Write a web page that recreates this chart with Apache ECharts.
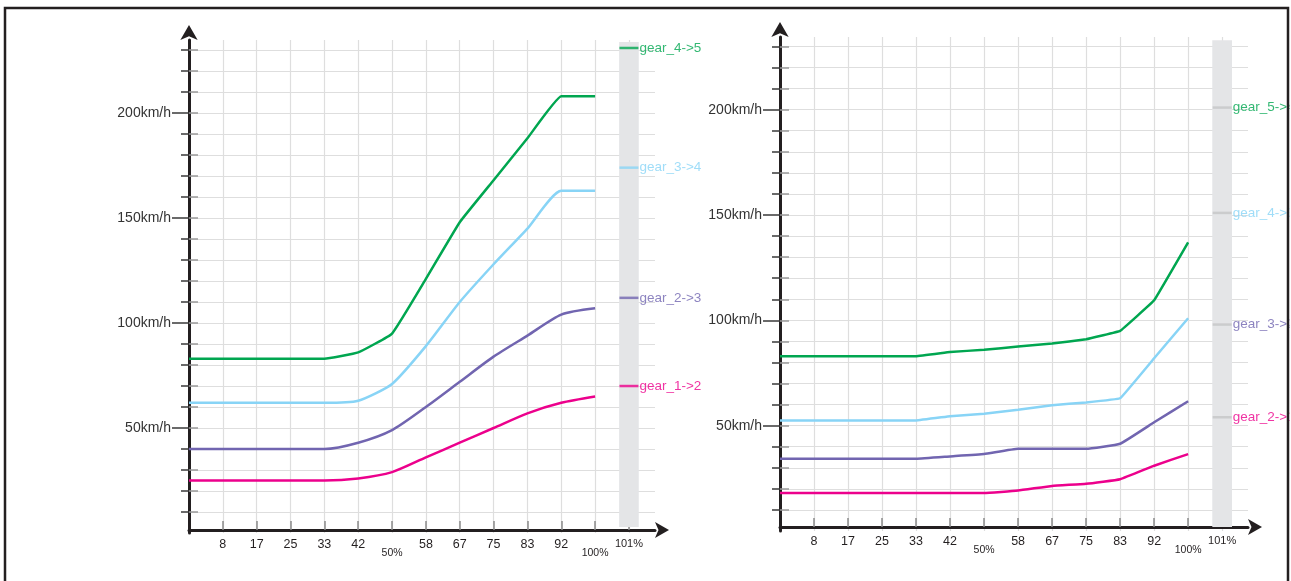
<!DOCTYPE html>
<html>
<head>
<meta charset="utf-8">
<script src="https://cdn.jsdelivr.net/npm/echarts@6/dist/echarts.min.js"></script>
<style>html,body{margin:0;padding:0;background:#fff}#c{width:1291px;height:581px}</style>
</head>
<body>
<div id="c"></div>
<script>
// ---- data ----
const xLabels = ['8','17','25','33','42','50%','58','67','75','83','92','100%','101%'];
const yLabelValues = [50, 100, 150, 200];

const upNames = ['gear_4->5','gear_3->4','gear_2->3','gear_1->2'];
const up45 = [83,83,83,83,83,86,95,121,148,168,188,208,208];
const up34 = [62,62,62,62,62,63,71,89,110,128,145,163,163];
const up23 = [40,40,40,40,40,43,49,60,72,84,94,104,107];
const up12 = [25,25,25,25,25,26,29,36,43,50,57,62,65];
const upLabelY = [231,174,112,70];

const dnNames = ['gear_5->4','gear_4->3','gear_3->2','gear_2->1'];
const dn54 = [83,83,83,83,83,85,86,87.6,89,91,95,109.5,137];
const dn43 = [52.5,52.5,52.5,52.5,52.5,54.5,55.7,57.6,59.7,61,63,82,101];
const dn32 = [34.3,34.3,34.3,34.3,34.3,35.4,36.5,39,39,39,41.4,51.6,61.6];
const dn21 = [18,18,18,18,18,18,18,19.2,21.4,22.4,24.6,31,36.5];
const dnLabelY = [201,151,98,54];

const colors = ['#00a650','#88d4f6','#7165b0','#ec008c'];
const FONT = 'Liberation Sans, Arial, sans-serif';
const DARK = '#231f20';

const chart = echarts.init(document.getElementById('c'));

const grids = [
  {left:189, top:40, width:466, height:493, ymax:234.8, xmax:13.77, xoff:-3, bar:[2.9,233.8]},
  {left:780, top:37, width:468, height:494, ymax:234.5, xmax:13.76, xoff:-4, bar:[1.9,233]}
];
const tens = []; for (let v = 10; v <= 230; v += 10) tens.push(v);
const idx = []; for (let i = 1; i <= 13; i++) idx.push(i);

const xAxes = [], yAxes = [], series = [];
grids.forEach((g, gi) => {
  xAxes.push({
    type:'value', gridIndex:gi, position:'bottom', min:0, max:g.xmax, offset:g.xoff,
    axisLine:{show:true, onZero:false, lineStyle:{color:DARK, width:3}, symbol:['none','arrow'], symbolSize:[12,14], symbolOffset:[0,14]},
    axisTick:{show:true, inside:true, length:9, customValues:idx, lineStyle:{color:'#8a8a8a', width:1.5}},
    splitLine:{show:true, lineStyle:{color:'#dedede', width:1.2}},
    axisLabel:{customValues:idx, margin:8, color:DARK, fontFamily:FONT, fontSize:12.5,
      formatter: v => { const s = xLabels[Math.round(v)-1] || ''; if (s==='50%'||s==='100%') return '{low|'+s+'}'; if (s==='101%') return '{pct|'+s+'}'; return s; },
      rich:{ low:{fontSize:10.5, fontFamily:FONT, color:DARK, padding:[10,0,0,0]}, pct:{fontSize:11, fontFamily:FONT, color:DARK} }
    }
  });
  const base = yAxes.length;
  yAxes.push({
    type:'value', gridIndex:gi, position:'left', min:0, max:g.ymax,
    axisLine:{show:true, onZero:false, lineStyle:{color:DARK, width:3}, symbol:['none','arrow'], symbolSize:[13,15], symbolOffset:[0,15]},
    axisTick:{show:true, length:8, customValues:tens, lineStyle:{color:'#3a3a3a', width:1.5}},
    splitLine:{show:true, lineStyle:{color:'#dedede', width:1.2}},
    axisLabel:{show:false}
  });
  yAxes.push({
    type:'value', gridIndex:gi, position:'left', offset:0, min:0, max:g.ymax,
    axisLine:{show:false, onZero:false},
    axisTick:{show:true, length:17, customValues:yLabelValues, lineStyle:{color:'#3a3a3a', width:1.5}},
    splitLine:{show:false},
    axisLabel:{show:true, customValues:yLabelValues, margin:18, color:'#333', fontFamily:FONT, fontSize:14, formatter: v => v + 'km/h'}
  });
  yAxes.push({
    type:'value', gridIndex:gi, position:'left', offset:0, min:0, max:g.ymax,
    axisLine:{show:false, onZero:false},
    axisTick:{show:true, inside:true, length:9, customValues:tens, lineStyle:{color:'#9a9a9a', width:1.5}},
    splitLine:{show:false}, axisLabel:{show:false}
  });

  const lines = gi === 0 ? [up45, up34, up23, up12] : [dn54, dn43, dn32, dn21];
  const smooths = gi === 0 ? [0.1, 0.2, 0.25, 0.25] : [0.05, 0.05, 0.1, 0.1];
  lines.forEach((arr, k) => {
    series.push({
      type:'line', xAxisIndex:gi, yAxisIndex:base, z:3,
      data: arr.map((v, i) => [i, v]),
      symbol:'none', smooth:smooths[k],
      lineStyle:{color:colors[k], width:2.5}
    });
  });
  series.push({
    type:'line', xAxisIndex:gi, yAxisIndex:base, z:1, data:[], silent:true,
    markArea:{silent:true, itemStyle:{color:'#e4e5e7'},
      data:[[{xAxis:12.71, yAxis:g.bar[0]},{xAxis:13.29, yAxis:g.bar[1]}]]}
  });
  const names = gi === 0 ? upNames : dnNames;
  const ys = gi === 0 ? upLabelY : dnLabelY;
  series.push({
    type:'scatter', xAxisIndex:gi, yAxisIndex:base, z:5, silent:true,
    symbol:'rect', symbolSize:[19, 2.5],
    data: names.map((n, k) => ({
      value:[13, ys[k]], name:n,
      itemStyle:{color: gi === 0 ? colors[k] : '#c4c5c7'},
      label:{color:colors[k]}
    })),
    label:{show:true, position:'right', distance:1, fontFamily:FONT, fontSize:13.5, formatter: p => p.name}
  });
});

chart.setOption({
  animation:false,
  backgroundColor:'#fff',
  grid: grids.map(g => ({left:g.left, top:g.top, width:g.width, height:g.height, outerBoundsMode:'none', containLabel:false})),
  xAxis: xAxes,
  yAxis: yAxes,
  series: series,
  graphic: [
    {type:'rect', z:100, shape:{x:1289.5, y:0, width:10, height:600}, style:{fill:'#fff'}},
    {type:'rect', z:101, shape:{x:5, y:8, width:1283, height:600}, style:{fill:'none', stroke:DARK, lineWidth:2.5}}
  ]
});
</script>
</body>
</html>
